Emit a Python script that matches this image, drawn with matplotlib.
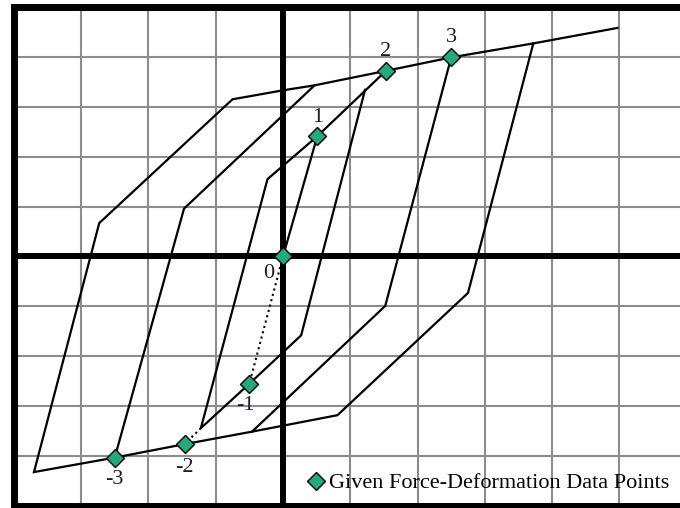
import matplotlib.pyplot as plt
import numpy as np

plt.rcParams['font.family'] = ['Liberation Serif', 'DejaVu Serif']

# hysteresis paths (grid units)
outer_x = [4.97, 3.72, 2.75, 0.81, -0.46, -1.46, -2.50, -3.70, -2.73, -0.75, 0.00, 0.47, 1.53, 2.50, 3.72]
outer_y = [4.58, 4.27, -0.73, -3.18, -3.51, -3.76, -4.03, -4.32, 0.67, 3.15, 3.33, 3.43, 3.72, 3.99, 4.27]

loop3_right_x = [2.50, 1.52, -0.46]
loop3_right_y = [3.99, -0.99, -3.51]
loop3_left_x = [-2.50, -1.47, 0.47]
loop3_left_y = [-4.03, 0.96, 3.43]

loop2_x = [1.22, 0.27, -0.50, -1.22, -0.23, 0.51, 1.53]
loop2_y = [3.34, -1.58, -2.55, -3.44, 1.55, 2.41, 3.72]

first_x = [0.0, 0.51]
first_y = [0.0, 2.41]

dotted_a_x = [0.0, -0.50]
dotted_a_y = [0.0, -2.55]
dotted_b_x = [-1.22, -1.46]
dotted_b_y = [-3.44, -3.76]

# given data points
pts_x = [0.0, 0.51, 1.53, 2.50, -0.50, -1.46, -2.50]
pts_y = [0.0, 2.41, 3.72, 3.99, -2.55, -3.76, -4.03]
pts_lab = ['0', '1', '2', '3', '-1', '-2', '-3']
lab_off = [(-10, -12), (0, 13.5), (0, 14), (0, 14), (-3, -16), (0, -16.5), (0, -16)]

xmin, xmax = -4.205, 5.9
fig = plt.figure(figsize=(6.8, 5.08), dpi=100)
ax = fig.add_axes([0, 0, 1, 1])
ax.set_xlim(xmin, xmax)
ax.set_ylim(-5.04, 5.14)
ax.axis('off')

grid_c = '#8c8c8c'
for gx in [-3, -2, -1, 1, 2, 3, 4, 5]:
    ax.vlines(gx, -5, 5, color=grid_c, lw=1.5, zorder=0)
for gy in [-4, -3, -2, -1, 1, 2, 3, 4]:
    ax.hlines(gy, -4, xmax, color=grid_c, lw=1.5, zorder=0)

ax.hlines(0, -4, xmax, color='black', lw=4.3, zorder=1)
ax.vlines(0, -5, 5, color='black', lw=4.3, zorder=1)
ax.plot([xmax, -4, -4, xmax], [5, 5, -5, -5], color='black', lw=5,
        solid_joinstyle='miter', zorder=1)

style = dict(color='black', lw=1.6, solid_joinstyle='miter', zorder=2)
ax.plot(outer_x, outer_y, **style)
ax.plot(loop3_right_x, loop3_right_y, **style)
ax.plot(loop3_left_x, loop3_left_y, **style)
ax.plot(loop2_x, loop2_y, **style)
ax.plot(first_x, first_y, **style)
ax.plot(dotted_a_x, dotted_a_y, color='black', lw=1.5, ls=':', zorder=2)
ax.plot(dotted_b_x, dotted_b_y, color='black', lw=1.5, ls=':', zorder=2)

ax.plot(pts_x, pts_y, ls='none', marker='D', ms=9.5, mfc='#22a97e', mec='black',
        mew=1.0, zorder=3, label='Given Force-Deformation Data Points')

for x, y, t, off in zip(pts_x, pts_y, pts_lab, lab_off):
    ax.annotate(t, (x, y), xytext=off, textcoords='offset points',
                ha='center', va='center', fontsize=16, color='#1a1a33')

ax.legend(loc='center left', bbox_to_anchor=(305 / 680, 1 - 483 / 508),
          frameon=False, fontsize=16, handlelength=1.0, handletextpad=0.1,
          borderpad=0, borderaxespad=0, markerscale=1.0)

plt.savefig('out.png', dpi=100)
